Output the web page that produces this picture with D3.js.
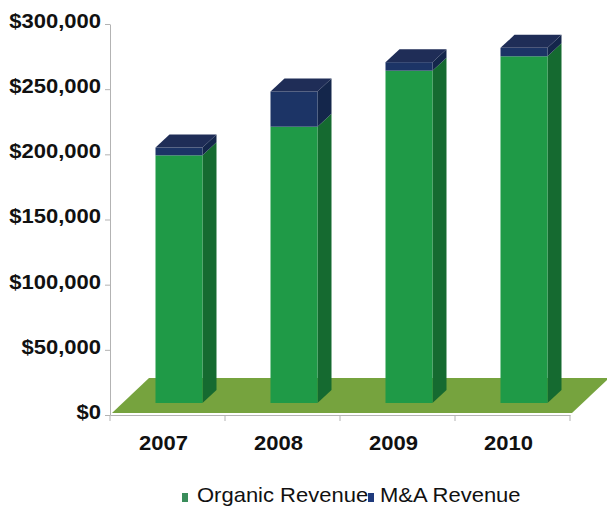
<!DOCTYPE html>
<html>
<head>
<meta charset="utf-8">
<script src="https://cdn.jsdelivr.net/npm/d3@7"></script>
<style>
  html, body { margin: 0; padding: 0; background: #ffffff; }
  svg { display: block; font-family: "Liberation Sans", Arial, sans-serif; }
</style>
</head>
<body>
<svg id="chart" width="607" height="510"></svg>
<script>
// Revenue by year, split into organic and M&A parts
const categories = ["2007", "2008", "2009", "2010"];
const organicRevenue = [190000, 212000, 255000, 266000];
const maRevenue = [6000, 27000, 6500, 6500];
const seriesNames = ["Organic Revenue", "M&A Revenue"];
const yTickValues = [0, 50000, 100000, 150000, 200000, 250000, 300000];

const svg = d3.select("#chart");

const x = d3.scaleBand().domain(categories).range([110, 570]).paddingInner(0).paddingOuter(0);
const y = d3.scaleLinear().domain([0, 300000]).range([415, 24]);

// oblique projection of the depth axis
const floorDepth = { dx: 37, dy: -35 };
const barFront = { dx: 11.5, dy: -12 };
const barSide = { dx: 14, dy: -13 };
const barWidth = 47;

const rows = categories.map((c, i) => ({ year: c, organic: organicRevenue[i], ma: maRevenue[i] }));
const stacked = d3.stack().keys(["organic", "ma"])(rows);

const faceColors = {
  organic: { front: "#1f9a47", side: "#156a30", top: "#1f9a47" },
  ma: { front: "#1c3466", side: "#14264b", top: "#1f2d57" }
};

// floor
const fy = y(0) - 2;
const fx0 = x.range()[0] + 2, fx1 = x.range()[1] + 2;
svg.append("path")
  .attr("d", d3.line()([
    [fx0, fy], [fx1, fy],
    [fx1 + floorDepth.dx, fy + floorDepth.dy],
    [fx0 + floorDepth.dx, fy + floorDepth.dy]
  ]) + "Z")
  .attr("fill", "#76a33e");

// axes
const yAxis = svg.append("g")
  .attr("transform", `translate(${x.range()[0]},0)`)
  .call(d3.axisLeft(y).tickValues(yTickValues).tickSize(5).tickSizeOuter(0)
    .tickFormat(d => "$" + d3.format(",")(d)));
yAxis.select(".domain").attr("stroke", "#b3b3b3");
yAxis.selectAll(".tick line").attr("stroke", "#b3b3b3");
yAxis.selectAll(".tick text")
  .attr("x", 0).attr("dy", "0.32em")
  .attr("transform", "translate(-9,-3) scale(1.1,1)")
  .attr("fill", "#111").attr("font-size", 20).attr("font-weight", "bold")
  .attr("font-family", "'Liberation Sans', Arial, sans-serif");

const xAxis = svg.append("g")
  .attr("transform", `translate(0,${y(0)})`)
  .call(d3.axisBottom(x).tickSize(0).tickSizeOuter(0));
xAxis.select(".domain").attr("stroke", "#b3b3b3");
xAxis.selectAll(".tick text")
  .attr("y", 0).attr("dy", 0)
  .attr("transform", "translate(-4,35) scale(1.1,1)")
  .attr("fill", "#111").attr("font-size", 20).attr("font-weight", "bold")
  .attr("font-family", "'Liberation Sans', Arial, sans-serif");
const boundaries = categories.map(c => x(c)).concat([x.range()[1]]);
xAxis.selectAll("line.sep").data(boundaries).join("line")
  .attr("class", "sep")
  .attr("x1", d => d).attr("x2", d => d)
  .attr("y1", 0).attr("y2", 6)
  .attr("stroke", "#b3b3b3");

// bars
const bars = svg.append("g");
stacked.forEach((layer, li) => {
  const col = faceColors[layer.key];
  const isTop = li === stacked.length - 1;
  layer.forEach((seg, i) => {
    const left = x(seg.data.year) + (x.bandwidth() - barWidth) / 2 + barFront.dx;
    const right = left + barWidth;
    const yb = y(seg[0]) + barFront.dy;
    const yt = y(seg[1]) + barFront.dy;
    const g = bars.append("g");
    // side face
    g.append("path")
      .attr("d", d3.line()([
        [right, yb], [right, yt],
        [right + barSide.dx, yt + barSide.dy],
        [right + barSide.dx, yb + barSide.dy]
      ]) + "Z")
      .attr("fill", col.side);
    // front face
    g.append("rect")
      .attr("x", left).attr("y", yt)
      .attr("width", barWidth).attr("height", yb - yt)
      .attr("fill", col.front);
    if (isTop) {
      g.append("path")
        .attr("d", d3.line()([
          [left, yt], [right, yt],
          [right + barSide.dx, yt + barSide.dy],
          [left + barSide.dx, yt + barSide.dy]
        ]) + "Z")
        .attr("fill", col.top);
    }
  });
});

// legend
const legendItems = [
  { name: seriesNames[0], color: "#3a8d5b", mx: 182, tx: 197 },
  { name: seriesNames[1], color: "#1f3a7c", mx: 368, tx: 380 }
];
const legend = svg.append("g");
legendItems.forEach(item => {
  legend.append("rect")
    .attr("x", item.mx).attr("y", 493).attr("width", 6).attr("height", 9)
    .attr("fill", item.color);
  legend.append("text")
    .attr("transform", `translate(${item.tx},502) scale(1.1,1)`)
    .attr("font-size", 20).attr("fill", "#111")
    .text(item.name);
});
</script>
</body>
</html>
